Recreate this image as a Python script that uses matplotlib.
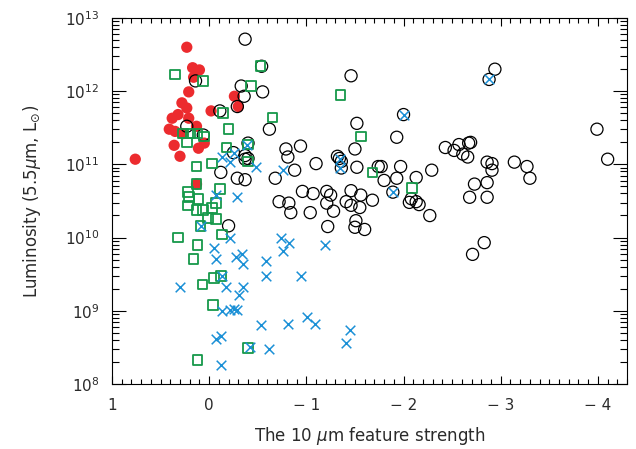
import numpy as np
import matplotlib
matplotlib.use("Agg")
import matplotlib.pyplot as plt
from matplotlib.ticker import LogLocator, MultipleLocator, FixedLocator, NullFormatter

# =========================
# data: 10um feature strength vs log10 L(5.5um)
# =========================
red_x = [0.76, 0.41, 0.38, 0.36, 0.35, 0.32, 0.30, 0.28, 0.27, 0.23, 0.23, 0.21,
         0.21, 0.17, 0.16, 0.13, 0.11, 0.10, 0.05, -0.02, -0.26, -0.30, 0.13]
red_logL = [11.07, 11.48, 11.63, 11.26, 11.45, 11.68, 11.11, 11.84, 11.42, 12.60, 11.77, 11.99,
            11.63, 12.32, 12.19, 11.52, 11.22, 12.29, 11.29, 11.73, 11.93, 11.79, 10.73]

sq_x = [0.35, 0.06, -0.53, -0.43, -0.14, -0.20, -0.65, 0.27, 0.19, 0.12, 0.05, 0.23,
        -0.18, -0.40, 0.13, -0.03, -0.40, -1.35, -1.56, -1.68, -2.09, 0.13, -0.11, 0.22,
        0.21, 0.11, -0.07, 0.22, 0.13, 0.06, -0.03, 0.01, -0.07, 0.09, -0.13, 0.32,
        0.12, 0.16, -0.12, -0.05, 0.07, -0.04, -0.40, 0.12]
sq_logL = [12.23, 12.14, 12.34, 12.07, 11.70, 11.48, 11.64, 11.42, 11.42, 11.42, 11.38, 11.30,
           11.23, 11.27, 10.97, 11.01, 11.04, 11.95, 11.38, 10.89, 10.68, 10.73, 10.66, 10.62,
           10.55, 10.53, 10.47, 10.44, 10.38, 10.38, 10.40, 10.27, 10.25, 10.16, 10.04, 10.00,
           9.90, 9.71, 9.47, 9.45, 9.36, 9.08, 8.49, 8.33]

x_x = [-0.39, -0.26, -0.13, -0.21, -0.48, -0.76, -1.35, -1.35, -2.00, -2.88, -1.89, -0.07,
       -0.29, 0.08, -0.21, -0.05, -0.07, -0.28, -0.34, -0.35, -0.58, -0.74, -0.82, -0.76,
       -1.19, 0.30, -0.13, -0.17, -0.35, -0.31, -0.59, -0.94, -0.13, -0.21, -0.26, -0.29,
       -0.53, -0.81, -1.01, -1.09, -1.45, -1.41, -0.07, -0.12, -0.42, -0.62, -0.12]
x_logL = [11.27, 11.16, 11.10, 11.03, 10.97, 10.92, 11.07, 10.95, 11.68, 12.16, 10.62, 10.58,
          10.55, 10.16, 10.00, 9.86, 9.71, 9.73, 9.77, 9.64, 9.68, 10.00, 9.93, 9.82,
          9.90, 9.33, 9.47, 9.33, 9.32, 9.21, 9.48, 9.47, 9.00, 9.01, 9.03, 9.01,
          8.81, 8.82, 8.92, 8.82, 8.73, 8.56, 8.62, 8.66, 8.51, 8.48, 8.26]

circ_x = [-0.37, -0.54, 0.14, -0.33, -0.36, -0.55, -0.29, -1.46, -0.11, -0.62, 0.23, 0.06,
          -0.40, -0.25, -0.37, -0.37, -0.40, -0.12, -0.29, -0.37, -0.68, -0.79, -0.81, -0.94,
          -1.10, -0.88, -1.32, -1.34, -1.36, -1.36, -1.52, -1.50, -1.52, -1.74, -0.96, -1.07,
          -1.21, -1.25, -1.46, -0.72, -1.56, -1.68, -2.94, -2.88, -2.00, -3.99, -1.93, -1.77,
          -1.97, -1.80, -1.93, -2.13, -2.29, -2.43, -2.52, -2.57, -2.67, -2.69, -2.61, -2.66,
          -2.86, -2.91, -2.73, -2.86, -3.14, -3.27, -3.30, -4.10, -2.68, -2.86, -2.08, -2.13,
          -2.06, -2.16, -2.27, -1.89, -1.41, -1.46, -1.21, -1.55, -1.04, -1.28, -1.51, -1.22,
          -1.50, -1.60, -0.20, -0.82, -0.84, -2.83, -2.71, -2.91]
circ_logL = [12.71, 12.34, 12.14, 12.07, 11.93, 11.99, 11.79, 12.21, 11.73, 11.48, 11.52, 11.40,
             11.29, 11.16, 11.12, 11.07, 11.08, 10.89, 10.81, 10.79, 10.81, 11.21, 11.10, 11.25,
             11.01, 10.92, 11.11, 11.08, 11.04, 10.95, 11.56, 11.21, 10.96, 10.97, 10.63, 10.60,
             10.63, 10.58, 10.64, 10.49, 10.58, 10.51, 12.30, 12.16, 11.68, 11.48, 11.37, 10.97,
             10.97, 10.78, 10.81, 10.82, 10.92, 11.23, 11.19, 11.27, 11.29, 11.30, 11.14, 11.10,
             11.03, 10.92, 10.73, 10.75, 11.03, 10.97, 10.81, 11.07, 10.55, 10.55, 10.53, 10.49,
             10.48, 10.45, 10.30, 10.62, 10.49, 10.44, 10.47, 10.41, 10.34, 10.36, 10.23, 10.15,
             10.14, 10.11, 10.16, 10.47, 10.34, 9.93, 9.77, 11.01]

x_ticks = [1, 0, -1, -2, -3, -4]
y_ticks = [1e8, 1e9, 1e10, 1e11, 1e12, 1e13]
y_ticklabels = [r"$10^{8}$", r"$10^{9}$", r"$10^{10}$", r"$10^{11}$", r"$10^{12}$", r"$10^{13}$"]

# =========================
# figure
# =========================
plt.rcParams["font.family"] = ["DejaVu Sans"]
plt.rcParams["mathtext.fontset"] = "dejavusans"
txt_color = "#2a2a2a"

fig = plt.figure(figsize=(6.36, 4.49), dpi=100)
ax = fig.add_axes([0.176, 0.145, 0.810, 0.815])

ax.scatter(red_x, 10 ** np.array(red_logL), s=66, marker="o",
           facecolor="#EC2B2E", edgecolor="none", zorder=2)
ax.scatter(circ_x, 10 ** np.array(circ_logL), s=76, marker="o",
           facecolor="none", edgecolor="black", linewidth=0.9, zorder=3)
ax.scatter(sq_x, 10 ** np.array(sq_logL), s=48, marker="s",
           facecolor="none", edgecolor="#16994A", linewidth=1.3, zorder=4)
ax.scatter(x_x, 10 ** np.array(x_logL), s=48, marker="x",
           color="#1B90D6", linewidth=1.1, zorder=5)

ax.set_yscale("log")
ax.set_xlim(1.0, -4.3)
ax.set_ylim(1e8, 1e13)

ax.xaxis.set_major_locator(FixedLocator(x_ticks))
ax.set_xticklabels([f"{v:d}".replace("-", "\u2212 ") for v in x_ticks])
ax.xaxis.set_minor_locator(MultipleLocator(0.1))
ax.yaxis.set_major_locator(FixedLocator(y_ticks))
ax.set_yticklabels(y_ticklabels)
ax.yaxis.set_minor_locator(LogLocator(base=10, subs=np.arange(2, 10), numticks=20))
ax.yaxis.set_minor_formatter(NullFormatter())

ax.tick_params(which="both", direction="in", top=True, right=True,
               colors="black", labelcolor=txt_color, labelsize=11)
ax.tick_params(axis="x", which="major", length=6, width=0.8, pad=10)
ax.tick_params(axis="x", which="minor", length=3.5, width=0.8)
ax.tick_params(axis="y", which="major", length=10, width=0.8, pad=9)
ax.tick_params(axis="y", which="minor", length=5, width=0.8)
for sp in ax.spines.values():
    sp.set_linewidth(0.8)

ax.set_xlabel(r"The 10 $\mu$m feature strength", fontsize=12, color=txt_color, labelpad=9)
ax.set_ylabel(r"Luminosity (5.5$\mu$m, L$_{\odot}$)", fontsize=12, color=txt_color, labelpad=16)

fig.savefig("out.png", dpi=100)
plt.close(fig)
